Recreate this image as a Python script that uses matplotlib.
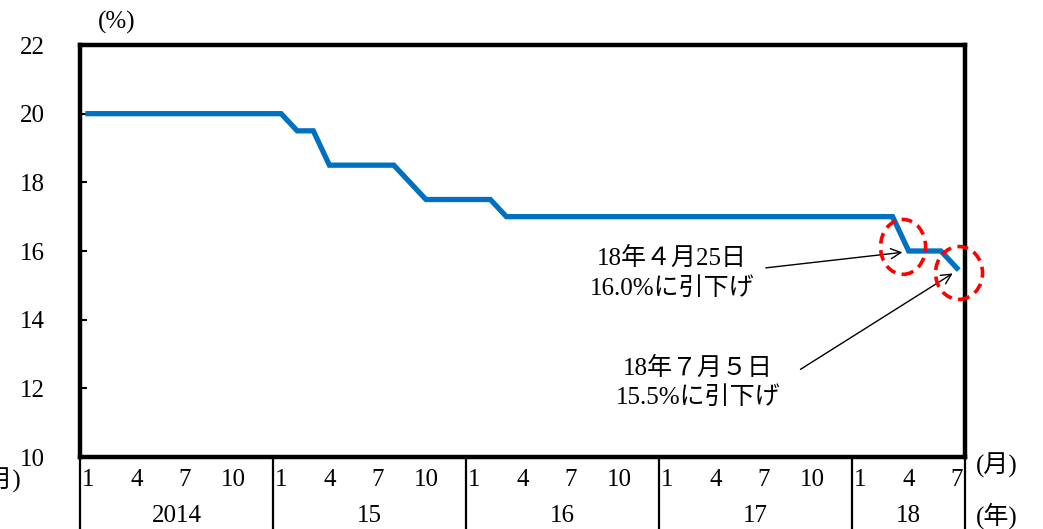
import matplotlib
matplotlib.use("Agg")
import matplotlib.pyplot as plt
import matplotlib.transforms as mtransforms
from matplotlib.patches import Ellipse

plt.rcParams['font.family'] = ['Liberation Serif', 'Noto Sans CJK JP', 'DejaVu Sans']

# Data: monthly, Jan 2014 .. Jul 2018
years = ["2014", "15", "16", "17", "18"]
months_per_year = [12, 12, 12, 12, 7]
month_tick_labels = ["1", "4", "7", "10"]
rate_2014 = [20.0] * 12
rate_2015 = [20.0, 19.5, 19.5, 18.5, 18.5, 18.5, 18.5, 18.5, 18.0, 17.5, 17.5, 17.5]
rate_2016 = [17.5, 17.5, 17.0, 17.0, 17.0, 17.0, 17.0, 17.0, 17.0, 17.0, 17.0, 17.0]
rate_2017 = [17.0] * 12
rate_2018 = [17.0, 17.0, 17.0, 16.0, 16.0, 16.0, 15.5]
rates = rate_2014 + rate_2015 + rate_2016 + rate_2017 + rate_2018
x = list(range(len(rates)))

ann1_text = "18年４月25日\n16.0%に引下げ"
ann2_text = "18年７月５日\n15.5%に引下げ"

FS = 18
W, H = 1043, 529
fig = plt.figure(figsize=(W / 100, H / 100), dpi=100)
ax_l, ax_r, ax_b, ax_t = 80, 965, 457, 45
ax = fig.add_axes([ax_l / W, (H - ax_b) / H, (ax_r - ax_l) / W, (ax_b - ax_t) / H])

ax.plot(x, rates, color="#0070C0", lw=3.8, solid_joinstyle="miter", zorder=3)

ax.set_xlim(-0.5, len(rates) - 0.5)
ax.set_ylim(10, 22)
ax.set_yticks(range(10, 23, 2))
ax.tick_params(axis='y', direction='in', length=5, width=1.5, pad=25, labelsize=FS)
for s in ax.spines.values():
    s.set_linewidth(3.2)
    s.set_color("black")

# month ticks
xt, xl = [], []
start = 0
for n in months_per_year:
    for m, lab in zip([0, 3, 6, 9], month_tick_labels):
        if m < n:
            xt.append(start + m)
            xl.append(lab)
    start += n
ax.set_xticks(xt)
ax.set_xticklabels(xl)
ax.tick_params(axis='x', length=0, pad=9, labelsize=FS)

trans = mtransforms.blended_transform_factory(ax.transData, ax.transAxes)
bottom_frac = -(H - ax_b) / (ax_b - ax_t)
start = 0
bounds = [-0.5]
for n in months_per_year:
    start += n
    bounds.append(start - 0.5)
for b in bounds:
    ax.plot([b, b], [0, bottom_frac], transform=trans, color="black", lw=1.6, clip_on=False)
for i, y in enumerate(years):
    c = (bounds[i] + bounds[i + 1]) / 2
    ax.text(c, -(516 - ax_b) / (ax_b - ax_t), y, transform=trans, ha='center', va='center', fontsize=FS)

# unit labels
fig.text(997 / W, (H - 465) / H, "(月)", ha='center', va='center', fontsize=FS)
fig.text(997 / W, (H - 516) / H, "(年)", ha='center', va='center', fontsize=FS)
fig.text(22 / W, (H - 480) / H, "(月)", ha='right', va='center', fontsize=FS)
fig.text(117 / W, (H - 22) / H, "(%)", ha='center', va='center', fontsize=FS)

# dashed ellipses
e1 = Ellipse((50.65, 16.12), 2.8, 1.6, fill=False, ec="#FF0000", lw=2.6, ls=(0, (3, 1.8)), zorder=4, clip_on=False)
e2 = Ellipse((54.13, 15.36), 2.92, 1.54, fill=False, ec="#FF0000", lw=2.6, ls=(0, (3, 1.8)), zorder=4, clip_on=False)
ax.add_patch(e1)
ax.add_patch(e2)

ax.annotate("", xy=(50.78, 15.97), xytext=(41.95, 15.5),
            arrowprops=dict(arrowstyle="->", color="black", lw=1.0, mutation_scale=18))
ax.annotate("", xy=(53.88, 15.39), xytext=(44.13, 12.51),
            arrowprops=dict(arrowstyle="->", color="black", lw=1.0, mutation_scale=18))
ax.text(36.3, 15.36, ann1_text, ha='center', va='center', fontsize=FS, linespacing=1.4)
ax.text(37.9, 12.16, ann2_text, ha='center', va='center', fontsize=FS, linespacing=1.4)

fig.savefig("out.png", dpi=100)
